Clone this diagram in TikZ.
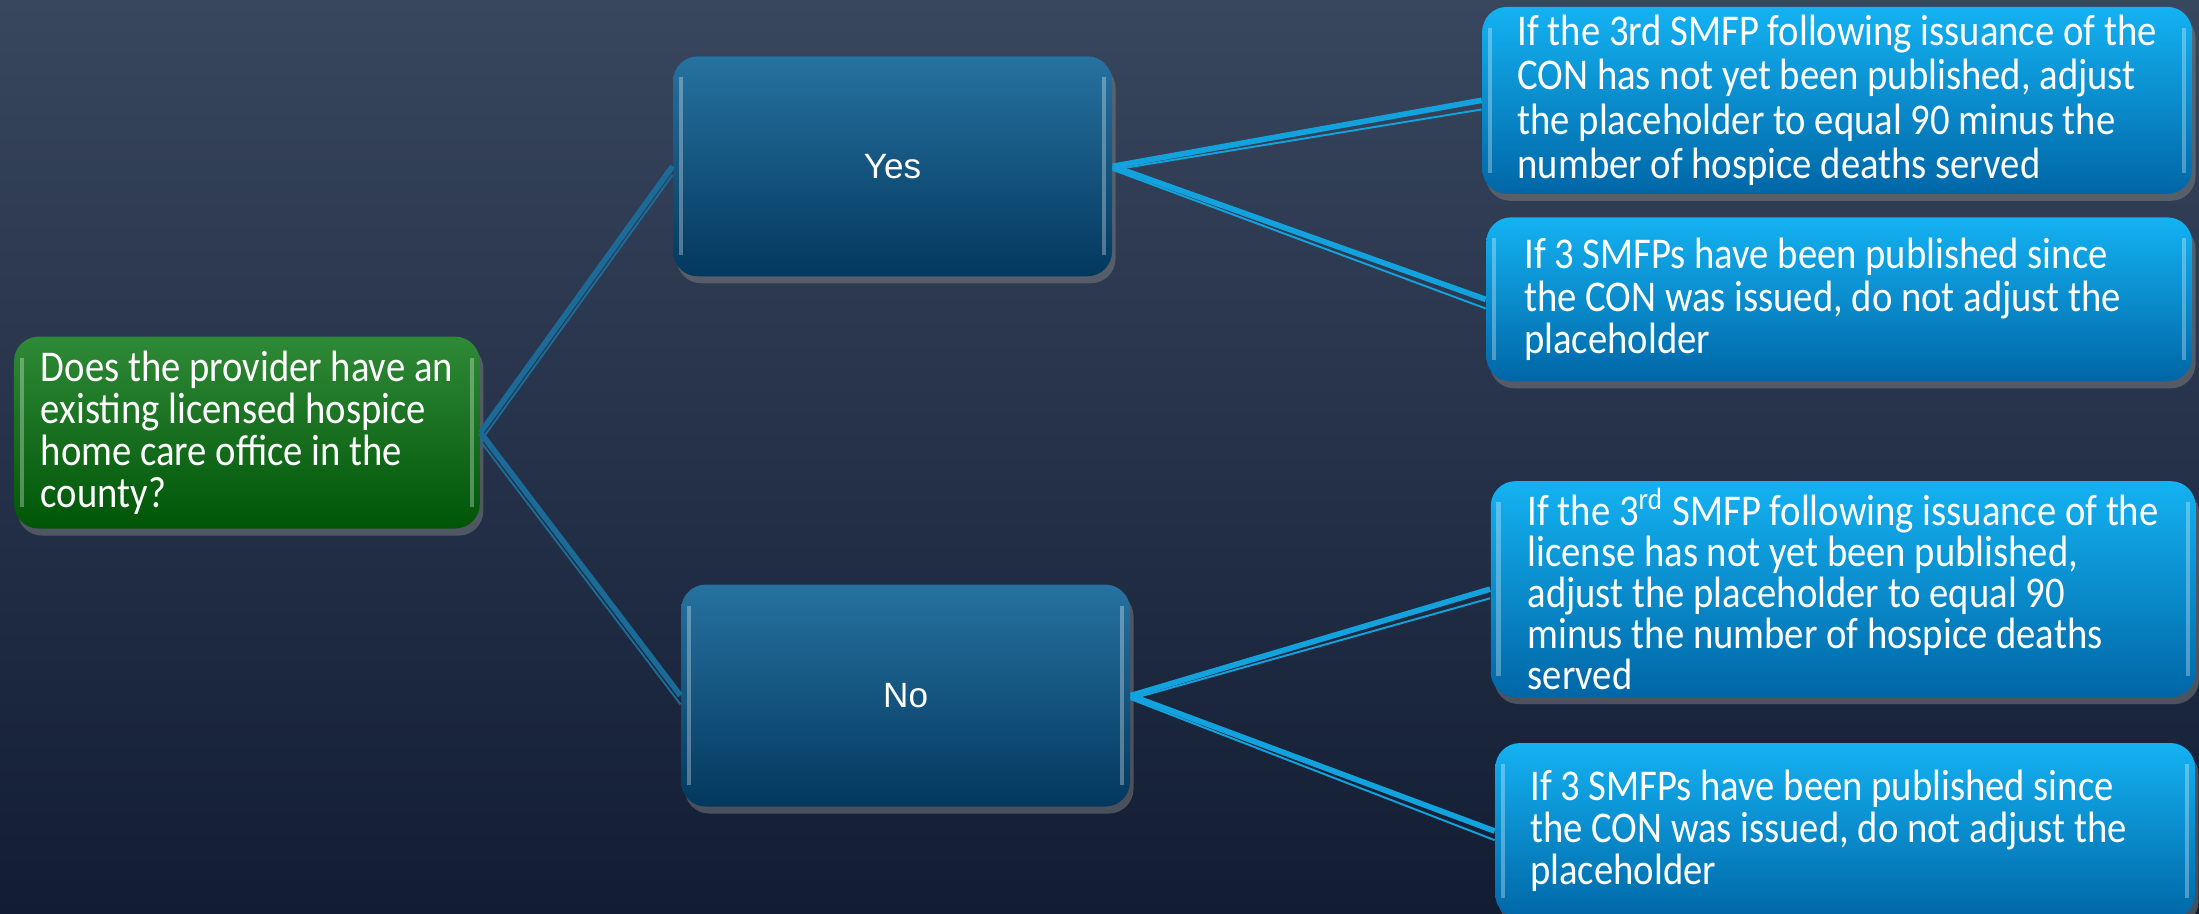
\documentclass[tikz,border=0pt]{standalone}
\usepackage{fontspec}
\setmainfont[FakeStretch=0.88]{Carlito}
\newfontfamily\yesnofont{Liberation Sans}
\usetikzlibrary{shadows}
\definecolor{bgtop}{HTML}{38465E}
\definecolor{bgbot}{HTML}{121D33}
\definecolor{qtop}{HTML}{2F8A37}
\definecolor{qbot}{HTML}{005507}
\definecolor{atop}{HTML}{2672A0}
\definecolor{abot}{HTML}{03385E}
\definecolor{ltop}{HTML}{14B2F2}
\definecolor{lbot}{HTML}{0066A6}
\definecolor{linkdark}{HTML}{1B6B99}
\definecolor{linklight}{HTML}{12A3DE}
\tikzset{
	glow/.style={path picture={
		\draw[white, opacity=.3, line width=1.2pt] ([xshift=2.2pt,yshift=-6pt]path picture bounding box.north west) -- ([xshift=2.2pt,yshift=6pt]path picture bounding box.south west);
		\draw[white, opacity=.3, line width=1.2pt] ([xshift=-2.2pt,yshift=-6pt]path picture bounding box.north east) -- ([xshift=-2.2pt,yshift=6pt]path picture bounding box.south east);}},
	box/.style={rounded corners=7pt, inner sep=0pt, align=left, text=white,
		font=\fontsize{12.5}{12}\selectfont, glow,
		drop shadow={opacity=.5, shadow xshift=1pt, shadow yshift=-2pt}},
	qbox/.style={box, top color=qtop, bottom color=qbot},
	ansbox/.style={box, top color=atop, bottom color=abot, align=center, font=\yesnofont\fontsize{10}{12}\selectfont},
	leafbox/.style={box, top color=ltop, bottom color=lbot},
	shortleaf/.style={leafbox, text width=6.3cm, align=flush left},
	thick link/.style={line width=1.6pt},
	thin link/.style={line width=0.55pt},
}
\begin{document}
\begin{tikzpicture}
				\shade[top color=bgtop, bottom color=bgbot] (0,0) rectangle (22,9.144);
				\useasboundingbox (0,0) rectangle (22,9.144);
				\node[qbox, minimum width=4.66cm, minimum height=1.92cm] (q) at (2.47,4.816) {Does the provider have an\\existing licensed hospice\\home care office in the\\county?};
				\node[ansbox, minimum width=4.39cm, minimum height=2.2cm] (yes) at (8.93,7.48) {Yes};
				\node[ansbox, minimum width=4.49cm, minimum height=2.22cm] (no) at (9.06,2.185) {No};
				\node[leafbox, minimum width=7.1cm, minimum height=1.87cm, font=\fontsize{12.5}{12.7}\selectfont] (r1) at (18.38,8.14) {If the 3rd SMFP following issuance of the\\CON has not yet been published, adjust\\the placeholder to equal 90 minus the\\number of hospice deaths served};
				\node[shortleaf, minimum width=7.06cm, minimum height=1.64cm] (r2) at (18.4,6.149) {If 3 SMFPs have been published since\\the CON was issued, do not adjust the\\placeholder};
				\node[leafbox, minimum width=7.05cm, minimum height=2.16cm, font=\fontsize{12.5}{11.7}\selectfont] (r3) at (18.44,3.25) {If the 3\textsuperscript{rd} SMFP following issuance of the\\license has not yet been published,\\adjust the placeholder to equal 90\\minus the number of hospice deaths\\served};
				\node[shortleaf, minimum width=7cm, minimum height=1.76cm] (r4) at (18.46,0.83) {If 3 SMFPs have been published since\\the CON was issued, do not adjust the\\placeholder};
				\draw[thick link, linkdark] (q.east) -- (yes.west);
				\draw[thin link, linkdark] ([yshift=-2.5pt]q.east) -- ([yshift=-2.5pt]yes.west);
				\draw[thick link, linkdark] (q.east) -- (no.west);
				\draw[thin link, linkdark] ([yshift=-2.5pt]q.east) -- ([yshift=-2.5pt]no.west);
				\draw[thick link, linklight] (yes.east) -- (r1.west);
				\draw[thin link, linklight] ([yshift=-1pt]yes.east) -- ([yshift=-2.6pt]r1.west);
				\draw[thick link, linklight] (yes.east) -- (r2.west);
				\draw[thin link, linklight] ([yshift=-1pt]yes.east) -- ([yshift=-2.6pt]r2.west);
				\draw[thick link, linklight] (no.east) -- (r3.west);
				\draw[thin link, linklight] ([yshift=-1pt]no.east) -- ([yshift=-2.6pt]r3.west);
				\draw[thick link, linklight] (no.east) -- (r4.west);
				\draw[thin link, linklight] ([yshift=-1pt]no.east) -- ([yshift=-2.6pt]r4.west);
\end{tikzpicture}
\end{document}
